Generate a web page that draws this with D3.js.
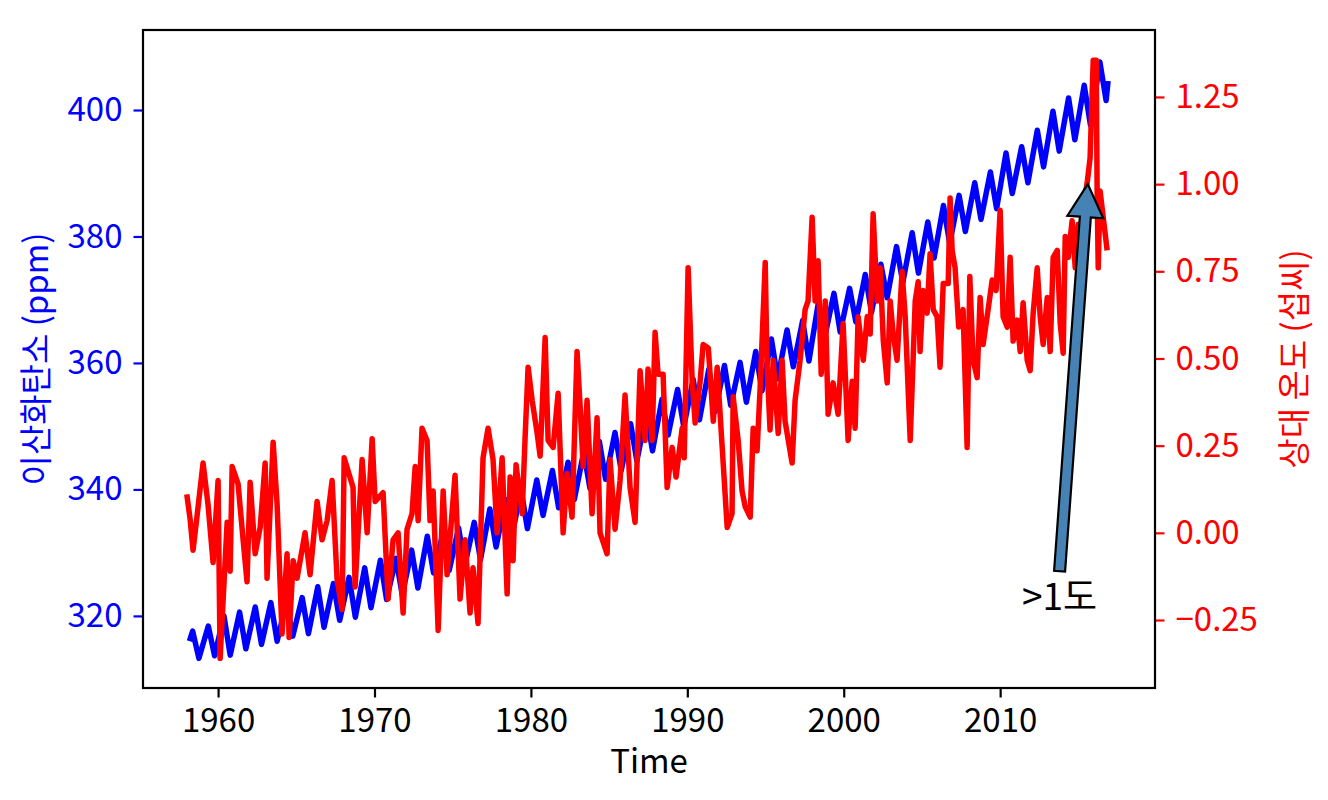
<!DOCTYPE html>
<html>
<head>
<meta charset="utf-8">
<script src="https://cdn.jsdelivr.net/npm/d3@7"></script>
<style>
  body { margin: 0; background: #fff; }
  svg text { font-family: "Noto Sans CJK KR", "Noto Sans", sans-serif; }
</style>
</head>
<body>
<svg id="chart" width="1328" height="800"></svg>
<script>
// CO2 (ppm): one seasonal high (May) and low (October) per year
const co2Years = [1958,1959,1960,1961,1962,1963,1964,1965,1966,1967,
  1968,1969,1970,1971,1972,1973,1974,1975,1976,1977,
  1978,1979,1980,1981,1982,1983,1984,1985,1986,1987,
  1988,1989,1990,1991,1992,1993,1994,1995,1996,1997,
  1998,1999,2000,2001,2002,2003,2004,2005,2006,2007,
  2008,2009,2010,2011,2012,2013,2014,2015,2016];
const co2May = [317.6,318.4,320.0,320.6,321.4,322.1,322.2,322.9,324.6,325.1,
  326.1,327.6,328.8,329.1,330.4,332.6,333.1,333.9,334.8,336.9,
  338.4,339.9,341.5,343.0,344.3,345.9,347.6,349.0,350.4,352.0,
  354.2,355.8,357.4,359.0,359.6,360.1,361.8,363.8,365.2,366.7,
  369.5,371.0,371.8,374.0,375.6,378.4,380.6,382.3,384.9,386.5,
  388.5,390.2,393.2,394.2,396.8,399.8,401.9,403.9,407.6];
const co2Oct = [313.3,313.7,313.8,314.8,315.5,316.0,316.8,317.2,318.2,319.3,
  319.8,321.3,322.6,323.3,324.4,326.8,327.2,328.0,328.9,330.9,
  332.5,333.8,335.9,337.1,338.4,340.2,341.6,343.0,344.5,346.1,
  348.6,349.9,351.0,352.3,353.3,353.8,355.6,357.5,359.4,360.3,
  364.0,364.9,366.5,368.0,370.3,372.7,374.2,376.6,378.9,380.8,
  382.7,384.4,386.8,388.5,391.0,393.5,395.3,397.6,401.5];
const co2First = [1958.17, 316.0];
const co2Last = [2016.9, 404.6];

// relative temperature (deg C)
const tempTime = [
  1958.00,1958.21,1958.40,1958.66,1959.04,1959.36,1959.68,1960.00,1960.13,1960.58,
  1960.77,1960.90,1961.28,1961.60,1961.85,1962.05,1962.37,1962.69,1963.01,1963.13,
  1963.52,1963.77,1964.09,1964.41,1964.54,1964.80,1965.05,1965.56,1965.88,1966.33,
  1966.65,1966.97,1967.29,1967.61,1967.93,1968.06,
  1968.63,1968.76,1969.21,1969.53,1969.85,1970.04,1970.55,1970.87,1971.19,1971.51,
  1971.83,1972.08,1972.40,1972.60,1972.79,1973.04,1973.36,1973.55,1973.75,1974.07,
  1974.39,1974.64,1975.15,1975.47,1975.79,1976.11,1976.30,1976.62,1976.94,1977.26,
  1977.58,1977.84,1978.16,1978.48,1978.67,1978.86,1979.05,1979.44,1979.63,1979.82,
  1980.08,1980.40,1980.59,1980.91,1981.10,1981.42,1981.74,1982.06,1982.31,1982.63,
  1982.95,1983.15,1983.34,1983.59,1983.91,1984.23,1984.42,1984.87,1985.06,1985.38,
  1985.70,1986.02,1986.34,1986.66,1986.98,1987.30,1987.49,1987.75,1987.94,1988.13,
  1988.45,1988.71,1989.03,1989.28,1989.67,1989.80,1990.05,1990.31,1990.50,1990.82,
  1991.01,1991.34,1991.66,1991.91,1992.23,1992.55,1992.86,1992.93,1993.25,1993.50,
  1993.70,1994.02,1994.21,1994.46,1994.66,1994.98,1995.10,1995.29,1995.49,1995.81,
  1996.06,1996.25,1996.70,1996.89,1997.21,1997.53,1997.72,1997.98,1998.17,1998.36,
  1998.56,1998.82,1999.00,1999.32,1999.64,1999.96,2000.28,2000.54,2000.73,2000.92,
  2001.25,2001.50,2001.69,2001.88,2002.14,2002.33,2002.53,2002.78,2002.97,2003.16,
  2003.41,2003.73,2003.93,2004.25,2004.57,2004.76,2004.88,2005.08,2005.33,2005.52,
  2005.72,2005.97,2006.16,2006.36,2006.68,2006.80,2006.93,2007.12,2007.35,2007.63,
  2007.89,2008.06,2008.27,2008.53,2008.72,2008.91,2009.23,2009.49,2009.74,2010.00,
  2010.19,2010.45,2010.64,2010.83,2011.09,2011.28,2011.47,2011.73,2011.92,2012.11,
  2012.37,2012.56,2012.75,2013.01,2013.20,2013.39,2013.65,2013.84,2014.03,2014.16,
  2014.35,2014.60,2014.80,2014.99,2015.18,2015.38,2015.58,2015.75,2015.95,2016.14,
  2016.20,2016.27,2016.39,2016.59,2016.84];
const tempValue = [
  0.11,0.04,-0.05,0.05,0.20,0.08,-0.085,0.15,-0.36,0.03,
  -0.11,0.19,0.14,-0.02,-0.14,0.145,-0.06,0.015,0.20,-0.13,
  0.26,0.085,-0.29,-0.06,-0.30,-0.08,-0.13,0.0,-0.12,0.09,
  -0.02,0.035,0.15,-0.135,-0.22,0.215,
  0.13,-0.155,0.21,0.0,0.27,0.09,0.115,-0.19,-0.02,0.0,
  -0.23,0.01,0.055,0.19,0.035,0.30,0.265,0.035,0.12,-0.28,
  0.12,-0.12,0.165,-0.19,-0.02,-0.23,-0.10,-0.26,0.215,0.30,
  0.21,0.0,0.215,-0.175,0.16,-0.08,0.195,0.055,0.275,0.475,
  0.38,0.285,0.22,0.56,0.265,0.245,0.40,0.0,0.17,0.045,
  0.52,0.36,0.19,0.38,0.055,0.33,0.0,-0.06,0.21,0.01,
  0.15,0.395,0.13,0.03,0.465,0.265,0.47,0.265,0.575,0.455,
  0.455,0.13,0.245,0.16,0.30,0.215,0.76,0.435,0.315,0.435,
  0.54,0.53,0.32,0.475,0.245,0.015,0.055,0.39,0.265,0.12,
  0.075,0.045,0.30,0.235,0.42,0.775,0.475,0.295,0.495,0.285,
  0.495,0.32,0.20,0.38,0.495,0.64,0.665,0.905,0.665,0.78,
  0.455,0.665,0.34,0.43,0.34,0.60,0.265,0.435,0.30,0.62,
  0.495,0.62,0.57,0.915,0.665,0.76,0.55,0.43,0.665,0.57,
  0.495,0.75,0.62,0.265,0.665,0.72,0.52,0.695,0.63,0.80,
  0.64,0.62,0.475,0.715,0.715,0.96,0.81,0.76,0.59,0.64,
  0.245,0.735,0.495,0.445,0.675,0.54,0.64,0.725,0.695,0.925,
  0.62,0.59,0.79,0.55,0.61,0.52,0.66,0.495,0.465,0.63,
  0.76,0.62,0.54,0.675,0.52,0.79,0.81,0.60,0.515,0.85,
  0.79,0.895,0.76,0.885,0.80,0.95,1.01,1.075,1.355,1.355,
  0.98,0.76,0.98,0.905,0.81];

// axes
const timeTicks = [1960, 1970, 1980, 1990, 2000, 2010];
const co2Ticks = [320, 340, 360, 380, 400];
const tempTicks = [-0.25, 0, 0.25, 0.5, 0.75, 1.0, 1.25];
const timeLimits = [1955.2, 2019.9];
const co2Limits = [308.6, 412.65];
const tempLimits = [-0.445, 1.442];

// annotation
const noteText = ">1도";
const noteTip = [2015.6, 1.0];
const noteTail = [2013.8, -0.11];
const noteTextAt = [2013.8, -0.222];

const svg = d3.select('#chart');
const plotLeft = 143, plotRight = 1155, plotTop = 30, plotBottom = 688;
const fontSize = 33;

let x = d3.scaleLinear().domain(timeLimits).range([plotLeft, plotRight]);
let yCo2 = d3.scaleLinear().domain(co2Limits).range([plotBottom, plotTop]);
let yTemp = d3.scaleLinear().domain(tempLimits).range([plotBottom, plotTop]);

// co2 points: Mar 1958 start, then May high / Oct low each year, Dec 2016 end
let co2Data = [co2First];
co2Years.forEach((yr, i) => {
  co2Data.push([yr + 4.5 / 12, co2May[i]]);
  co2Data.push([yr + 9.3 / 12, co2Oct[i]]);
});
co2Data.push(co2Last);

let tempData = tempTime.map((t, i) => [t, tempValue[i]]);

// lines
let co2Line = d3.line().x(d => x(d[0])).y(d => yCo2(d[1]));
let tempLine = d3.line().x(d => x(d[0])).y(d => yTemp(d[1]));

svg.append('path')
   .datum(co2Data)
   .attr('d', co2Line)
   .attr('fill', 'none')
   .attr('stroke', 'blue')
   .attr('stroke-width', 5.5)
   .attr('stroke-linejoin', 'round');

svg.append('path')
   .datum(tempData)
   .attr('d', tempLine)
   .attr('fill', 'none')
   .attr('stroke', 'red')
   .attr('stroke-width', 5.5)
   .attr('stroke-linejoin', 'round');

// axes
function styleAxis(g, color) {
  g.select('.domain').remove();
  g.selectAll('.tick line').attr('stroke', color).attr('stroke-width', 2.2);
  g.selectAll('.tick text')
   .attr('fill', color)
   .style('font-size', fontSize + 'px');
}

svg.append('g')
   .attr('transform', `translate(0,${plotBottom})`)
   .call(d3.axisBottom(x).tickValues(timeTicks).tickSize(9.5).tickPadding(11)
           .tickFormat(d3.format('d')))
   .call(g => styleAxis(g, 'black'));

svg.append('g')
   .attr('transform', `translate(${plotLeft},0)`)
   .call(d3.axisLeft(yCo2).tickValues(co2Ticks).tickSize(9.5).tickPadding(11)
           .tickFormat(d3.format('d')))
   .call(g => styleAxis(g, 'blue'));

svg.append('g')
   .attr('transform', `translate(${plotRight},0)`)
   .call(d3.axisRight(yTemp).tickValues(tempTicks).tickSize(9.5).tickPadding(11)
           .tickFormat(d3.format('.2f')))
   .call(g => styleAxis(g, 'red'));

// frame
svg.append('rect')
   .attr('x', plotLeft).attr('y', plotTop)
   .attr('width', plotRight - plotLeft).attr('height', plotBottom - plotTop)
   .attr('fill', 'none')
   .attr('stroke', 'black')
   .attr('stroke-width', 2.2);

// axis labels
svg.append('text')
   .attr('x', (plotLeft + plotRight) / 2).attr('y', 773)
   .attr('text-anchor', 'middle')
   .style('font-size', fontSize + 'px')
   .text('Time');

svg.append('text')
   .attr('transform', `translate(34,${(plotTop + plotBottom) / 2}) rotate(-90)`)
   .attr('text-anchor', 'middle')
   .attr('dominant-baseline', 'central')
   .attr('fill', 'blue')
   .style('font-size', fontSize + 'px')
   .text('이산화탄소 (ppm)');

svg.append('text')
   .attr('transform', `translate(1292,${(plotTop + plotBottom) / 2}) rotate(-90)`)
   .attr('text-anchor', 'middle')
   .attr('dominant-baseline', 'central')
   .attr('fill', 'red')
   .style('font-size', fontSize + 'px')
   .text('상대 온도 (섭씨)');

// annotation arrow
let tip = [x(noteTip[0]), yTemp(noteTip[1])];
let tail = [x(noteTail[0]), yTemp(noteTail[1])];
let dx = tip[0] - tail[0], dy = tip[1] - tail[1];
let len = Math.sqrt(dx * dx + dy * dy);
let ux = dx / len, uy = dy / len;
let nx = -uy, ny = ux;
let shaftW = 11, headW = 36, headL = 33;
let base = [tip[0] - ux * headL, tip[1] - uy * headL];
let pts = [
  [tail[0] + nx * shaftW / 2, tail[1] + ny * shaftW / 2],
  [base[0] + nx * shaftW / 2, base[1] + ny * shaftW / 2],
  [base[0] + nx * headW / 2, base[1] + ny * headW / 2],
  tip,
  [base[0] - nx * headW / 2, base[1] - ny * headW / 2],
  [base[0] - nx * shaftW / 2, base[1] - ny * shaftW / 2],
  [tail[0] - nx * shaftW / 2, tail[1] - ny * shaftW / 2]
];
svg.append('polygon')
   .attr('points', pts.map(p => p.join(',')).join(' '))
   .attr('fill', 'steelblue')
   .attr('stroke', 'black')
   .attr('stroke-width', 2.2)
   .attr('stroke-linejoin', 'miter');

svg.append('text')
   .attr('x', x(noteTextAt[0])).attr('y', yTemp(noteTextAt[1]))
   .attr('text-anchor', 'middle')
   .style('font-size', '37px')
   .text(noteText);
</script>
</body>
</html>
